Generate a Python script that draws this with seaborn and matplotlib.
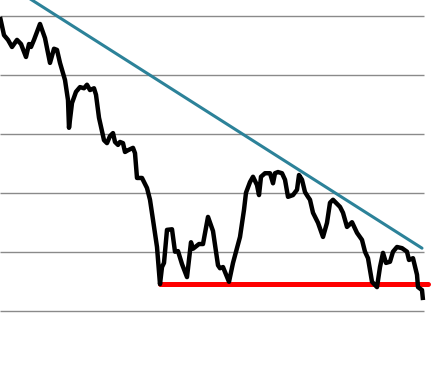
import matplotlib
matplotlib.use("Agg")
import matplotlib.pyplot as plt
import seaborn as sns
import pandas as pd

# ---- data ----
days = [0, 4, 8, 12, 17, 21, 26, 29, 31, 34, 40, 45, 50, 54, 57, 60, 65, 68, 69, 72,
        76, 80, 84, 87, 90, 94, 96, 99, 104, 107, 110, 113, 115, 118, 120, 123, 125, 128,
        133, 135, 137, 142, 147, 150, 153, 157, 160, 162, 164, 167, 172, 175, 178, 182,
        187, 191, 193, 199, 203, 208, 213, 218, 220, 223, 229, 233, 240, 244, 246, 250,
        253, 257, 259, 261, 265, 270, 273, 275, 278, 282, 285, 288, 293, 297, 299, 302,
        305, 308, 310, 313, 318, 323, 327, 330, 333, 340, 343, 347, 352, 357, 362, 365,
        368, 372, 377, 380, 383, 386, 390, 393, 397, 402, 407, 409, 413, 417, 418, 422, 423]
price = [99.9, 96.8, 96.0, 94.8, 96.0, 95.3, 93.1, 95.3, 94.8, 96.0, 98.7, 96.3, 92.1,
         94.5, 94.3, 92.1, 89.2, 85.8, 81.1, 85.3, 87.2, 88.0, 87.8, 88.4, 87.5, 87.8,
         86.7, 82.8, 79.0, 78.5, 79.7, 80.2, 78.7, 78.2, 78.7, 78.5, 77.0, 77.3, 77.7,
         76.8, 72.6, 72.6, 70.9, 68.9, 65.5, 60.9, 54.6, 57.5, 58.2, 63.8, 63.9, 60.1,
         60.2, 58.0, 55.8, 61.7, 60.6, 61.4, 61.4, 66.0, 63.6, 57.8, 57.3, 57.5, 55.0,
         58.2, 62.6, 67.2, 70.1, 71.9, 72.8, 71.4, 69.7, 72.8, 73.4, 73.4, 71.7, 73.4,
         73.6, 73.4, 72.3, 69.4, 69.7, 70.6, 73.1, 72.3, 70.2, 69.4, 68.9, 66.7, 65.0,
         62.6, 65.0, 68.4, 68.9, 67.7, 66.7, 64.3, 65.1, 63.3, 62.1, 60.1, 59.0, 55.0,
         54.1, 57.5, 59.9, 58.2, 58.4, 60.1, 60.9, 60.7, 60.1, 58.7, 59.0, 56.2, 54.1,
         53.6, 51.9]

grid_values = [50, 60, 70, 80, 90, 100]
trend_days = [25, 422]
trend_values = [103.5, 60.7]
support_days = [160, 428]
support_values = [54.6, 54.6]

df = pd.DataFrame({"day": days, "price": price})

sns.set_style("white")
fig = plt.figure(figsize=(4.35, 3.68), dpi=100)
ax = fig.add_axes([0, 0, 1, 1])

ax.hlines(grid_values, 0, 424, color="#8a8a8a", lw=1.0, zorder=1)

sns.lineplot(x=support_days, y=support_values, color="#ff0000", lw=3.6, ax=ax, zorder=2)
sns.lineplot(data=df, x="day", y="price", color="black", lw=3.2, ax=ax, zorder=3,
             solid_joinstyle="round", solid_capstyle="butt")
sns.lineplot(x=trend_days, y=trend_values, color="#2C8299", lw=2.2, ax=ax, zorder=4)

ax.set_xlim(0, 435)
ax.set_ylim(40.39, 102.76)
ax.axis("off")

fig.savefig("out.png", dpi=100)
